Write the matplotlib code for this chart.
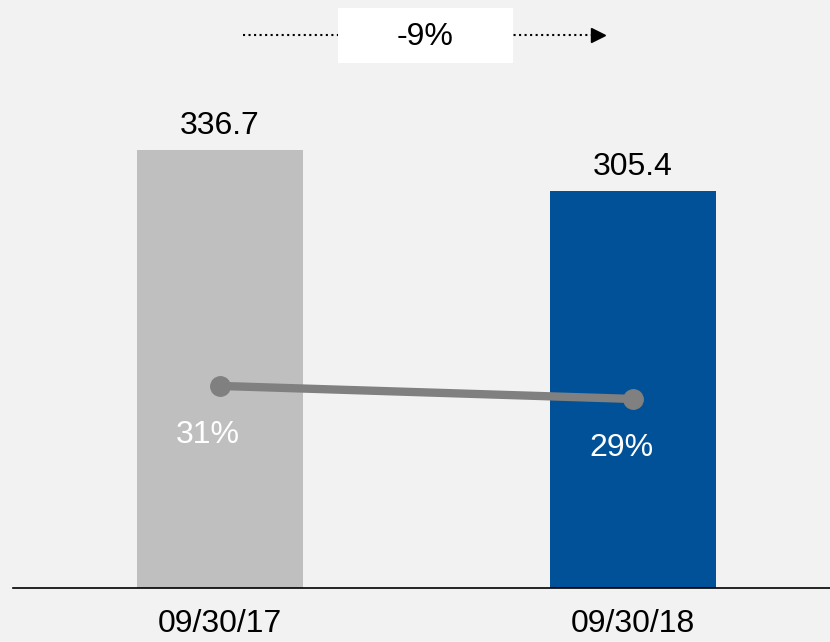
import matplotlib.pyplot as plt
from matplotlib.patches import Rectangle

plt.rcParams['font.family'] = ['Liberation Sans', 'DejaVu Sans']

dates = ['09/30/17', '09/30/18']
totals = [336.7, 305.4]
shares = [31, 29]
bar_colors = ['#BFBFBF', '#005197']
bg = '#F2F2F2'

fig = plt.figure(figsize=(8.3, 6.42), dpi=100, facecolor=bg)
ax = fig.add_axes([13 / 830, 54 / 642, 817 / 830, 588 / 642])
ax.set_facecolor(bg)

x = list(range(len(dates)))
ax.bar(x, totals, width=0.402, color=bar_colors, zorder=2)
ax.set_xlim(-0.501, 1.477)
ax.set_ylim(0, 452)

for xi, v in zip(x, totals):
    ax.annotate(f'{v:.1f}', (xi, v), xytext=(0, 9), textcoords='offset pixels',
                ha='center', va='bottom', fontsize=23, color='black')

# baseline only
for side in ['top', 'right', 'left']:
    ax.spines[side].set_visible(False)
ax.spines['bottom'].set_linewidth(1.2)
ax.set_yticks([])
ax.set_xticks(x)
ax.set_xticklabels(dates, fontsize=23)
ax.tick_params(axis='x', length=0, pad=15)

# share line on its own scale
ax2 = ax.twinx()
ax2.set_ylim(0, 90.2)
ax2.axis('off')
ax2.plot(x, shares, color='#808080', lw=6, marker='o', markersize=14, zorder=3)
for xi, s in zip(x, shares):
    ax2.annotate(f'{s}%', (xi, s), xytext=(-12, -49), textcoords='offset pixels',
                 ha='center', va='center', fontsize=23, color='white')

# change arrow on top
change = round((totals[1] / totals[0] - 1) * 100)
y_arrow = 1 - 35 / 642
fig.add_artist(plt.Line2D([243 / 830, 592 / 830], [y_arrow, y_arrow],
                          transform=fig.transFigure, color='black', lw=1.5, ls=':', zorder=1))
fig.add_artist(plt.Line2D([598 / 830], [y_arrow], transform=fig.transFigure,
                          marker='>', markersize=10, color='black', lw=0, zorder=1))
fig.add_artist(Rectangle((338 / 830, 1 - 63 / 642), 175 / 830, 55 / 642,
                         transform=fig.transFigure, facecolor='white', edgecolor='none', zorder=2))
fig.text(425.5 / 830, 1 - 37 / 642, f'{change}%', ha='center', va='center', fontsize=23, zorder=3)

fig.savefig('out.png', dpi=100, facecolor=bg)
